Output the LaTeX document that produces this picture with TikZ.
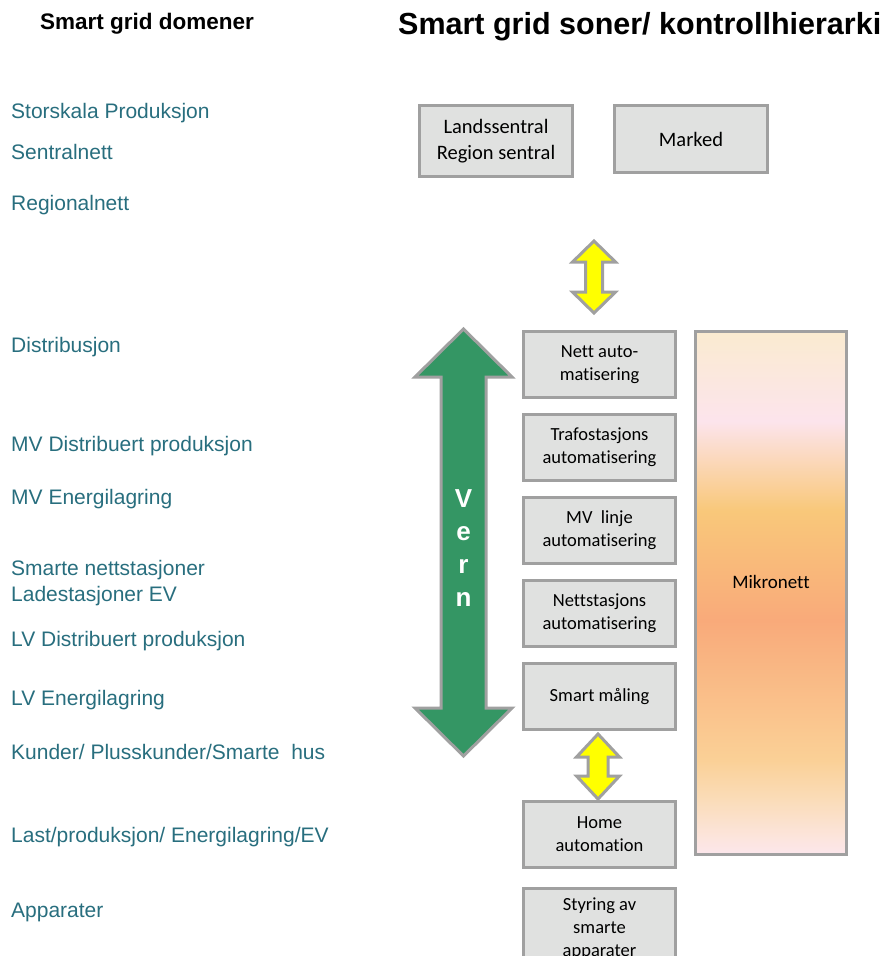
\documentclass[tikz,border=0pt]{standalone}
\usepackage{fontspec}
\setmainfont{Liberation Sans}
\newfontfamily\carlito[Ligatures=NoCommon]{Carlito}

\definecolor{domaincol}{RGB}{40,110,126}
\definecolor{boxfill}{RGB}{224,225,224}
\definecolor{boxline}{RGB}{160,160,160}
\definecolor{vernfill}{RGB}{52,150,100}
\definecolor{linkfill}{RGB}{255,255,0}
\definecolor{mkA}{RGB}{252,230,236}
\definecolor{mkA2}{RGB}{252,229,222}
\definecolor{mkA3}{RGB}{250,220,184}
\definecolor{mkB}{RGB}{250,208,150}
\definecolor{mkC}{RGB}{249,170,122}
\definecolor{mkD}{RGB}{249,200,122}
\definecolor{mkE}{RGB}{252,228,236}
\definecolor{mkF}{RGB}{250,235,208}

% microgrid colour band, bottom to top (path occupies 25bp..75bp)
\pgfdeclareverticalshading{mikroshade}{100bp}{%
  color(0bp)=(mkA); color(25bp)=(mkA); color(26.5bp)=(mkA2);
  color(30.3bp)=(mkA3); color(34.1bp)=(mkB); color(47.4bp)=(mkC);
  color(57.9bp)=(mkD); color(66.4bp)=(mkE); color(75bp)=(mkF);
  color(100bp)=(mkF)}

% vertical double-headed block arrow:
% #1 x, #2 top tip, #3 bottom tip, #4 shaft width, #5 head width, #6 head length, #7 style
\newcommand{\vdarrow}[7]{%
  \draw[#7] (#1,#2) -- (#1+#5/2,#2+#6) -- (#1+#4/2,#2+#6) -- (#1+#4/2,#3-#6)
    -- (#1+#5/2,#3-#6) -- (#1,#3) -- (#1-#5/2,#3-#6) -- (#1-#4/2,#3-#6)
    -- (#1-#4/2,#2+#6) -- (#1-#5/2,#2+#6) -- cycle;}

\tikzset{
  domlabel/.style={anchor=base west, inner sep=0pt, text=domaincol,
    font=\fontsize{21}{25}\selectfont},
  heading/.style={anchor=base west, inner sep=0pt, font=\bfseries},
  ctrlbox/.style={draw=boxline, fill=boxfill, line width=3pt, align=center,
    inner sep=0pt, font=\carlito\fontsize{18.5}{23}\selectfont},
  topbox/.style={ctrlbox, font=\carlito\fontsize{20.5}{26}\selectfont},
  blockarrow/.style={draw=boxline, line width=3pt, line join=miter},
}

\begin{document}
\begin{tikzpicture}[x=1pt,y=-1pt]
\useasboundingbox (0,0) rectangle (889,956);
\clip (0,0) rectangle (889,956);

% headings
\node[heading, font=\bfseries\fontsize{22.5}{26}\selectfont] (hdom) at (40,29) {Smart grid domener};
\node[heading, font=\bfseries\fontsize{30.5}{34}\selectfont] (hzone) at (398,34) {Smart grid soner/ kontrollhierarki};

% smart grid domains
\node[domlabel] (d1)  at (11,118) {Storskala Produksjon};
\node[domlabel] (d2)  at (11,159) {Sentralnett};
\node[domlabel] (d3)  at (11,210) {Regionalnett};
\node[domlabel] (d4)  at (11,352) {Distribusjon};
\node[domlabel] (d5)  at (11,451) {MV Distribuert produksjon};
\node[domlabel] (d6)  at (11,504) {MV Energilagring};
\node[domlabel] (d7)  at (11,575) {Smarte nettstasjoner};
\node[domlabel] (d8)  at (11,601) {Ladestasjoner EV};
\node[domlabel] (d9)  at (11,646) {LV Distribuert produksjon};
\node[domlabel] (d10) at (11,705) {LV Energilagring};
\node[domlabel] (d11) at (11,759) {Kunder/ Plusskunder/Smarte\ \ hus};
\node[domlabel] (d12) at (11,842) {Last/produksjon/ Energilagring/EV};
\node[domlabel] (d13) at (11,917) {Apparater};

% central level
\node[topbox, minimum width=153pt, minimum height=71pt] (lands) at (496,141) {Landssentral\\Region sentral};
\node[topbox, minimum width=153pt, minimum height=67pt] (marked) at (691,139) {Marked};

% automation levels
\node[ctrlbox, minimum width=152pt, minimum height=66pt] (nett)    at (599.5,364.5) {Nett auto-\\matisering};
\node[ctrlbox, minimum width=152pt, minimum height=66pt] (trafo)   at (599.5,447.5) {Trafostasjons\\automatisering};
\node[ctrlbox, minimum width=152pt, minimum height=66pt] (mvlinje) at (599.5,530.5) {MV\ \ linje\\automatisering};
\node[ctrlbox, minimum width=152pt, minimum height=66pt] (nettst)  at (599.5,613.5) {Nettstasjons\\automatisering};
\node[ctrlbox, minimum width=152pt, minimum height=66pt] (smart)   at (599.5,696.5) {Smart måling};
\node[ctrlbox, minimum width=152pt, minimum height=66pt] (home)    at (599.5,834.5) {Home\\automation};
\node[ctrlbox, minimum width=152pt, minimum height=82pt] (styring) at (599.5,929) {Styring av\\smarte\\apparater};

% microgrid
\node[draw=boxline, line width=3pt, shading=mikroshade, minimum width=151pt, minimum height=523pt] (mikro) at (771,593) {};
\node[font=\carlito\fontsize{19}{23}\selectfont, inner sep=0pt] (mikrotxt) at (771,582) {Mikronett};

% links between levels
\vdarrow{594}{241}{313}{17}{43}{21}{blockarrow, fill=linkfill}
\vdarrow{598}{734}{799}{20}{43}{23}{blockarrow, fill=linkfill}

% protection arrow
\vdarrow{463.5}{329}{756}{45}{97}{48}{blockarrow, fill=vernfill}
\node[text=white, font=\bfseries\fontsize{26}{33}\selectfont, align=center, inner sep=0pt] (vern) at (463.5,548) {V\\e\\r\\n};
\end{tikzpicture}
\end{document}
